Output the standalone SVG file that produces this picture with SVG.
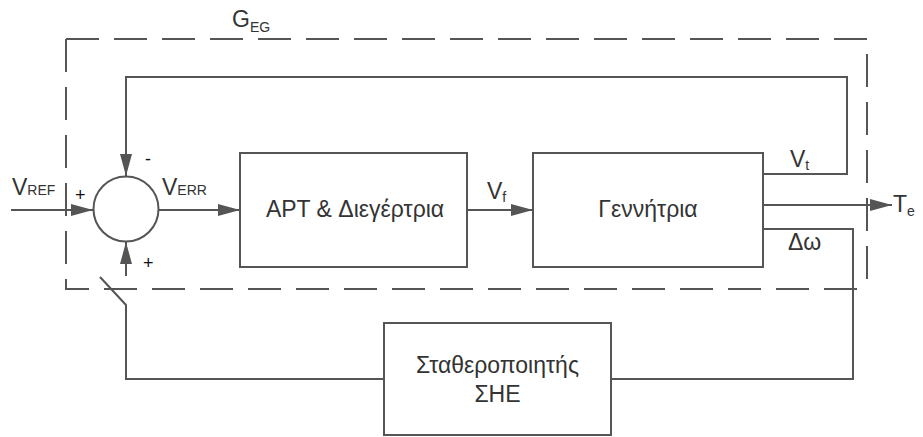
<svg xmlns="http://www.w3.org/2000/svg" width="923" height="437" viewBox="0 0 923 437">
  <defs>
    <marker id="arrow" markerUnits="userSpaceOnUse" markerWidth="22" markerHeight="14" refX="22" refY="7" orient="auto">
      <path d="M0,1 L22,7 L0,13 Z" fill="#555"/>
    </marker>
    <style>
      .blk { fill: #fff; stroke: #555; stroke-width: 2; }
      .wire { fill: none; stroke: #555; stroke-width: 2; }
      .dash { fill: none; stroke: #555; stroke-width: 2; stroke-dasharray: 33 15; }
      text { font-family: "Liberation Sans", Arial, sans-serif; fill: #333; }
      .lbl { font-size: 23px; }
      .sub { font-size: 14px; }
      .sign { font-size: 18px; fill: #111; }
    </style>
  </defs>
  <rect width="923" height="437" fill="#fff"/>

  <!-- boundary of the excitation/generator subsystem -->
  <g id="boundary">
    <path class="dash" d="M66,39 H867 V289"/>
    <path class="dash" d="M66,39 V289 H860"/>
    <text x="232" y="27" class="lbl">G<tspan class="sub" dy="5">EG</tspan></text>
  </g>

  <!-- connectors -->
  <g id="connectors">
    <path class="wire" d="M763,174 H847 V77 H126 V176" marker-end="url(#arrow)"/>
    <path class="wire" d="M11,210 H93" marker-end="url(#arrow)"/>
    <path class="wire" d="M159,210 H240" marker-end="url(#arrow)"/>
    <path class="wire" d="M467,210 H533" marker-end="url(#arrow)"/>
    <path class="wire" d="M763,205 H892" marker-end="url(#arrow)"/>
    <path class="wire" d="M763,229 H853 V379 H611"/>
    <path class="wire" d="M384,379 H126 V305 L100,277"/>
    <path class="wire" d="M126,276 V242" marker-end="url(#arrow)"/>
  </g>

  <!-- summing junction -->
  <g id="sum">
    <circle class="blk" cx="126" cy="209" r="32.5"/>
    <text x="75" y="201" class="sign">+</text>
    <text x="145" y="165" class="sign">-</text>
    <text x="143" y="269" class="sign">+</text>
  </g>

  <g id="avr">
    <rect class="blk" x="240" y="153" width="227" height="114"/>
    <text x="355" y="217" class="lbl" text-anchor="middle">APT &amp; Διεγέρτρια</text>
  </g>

  <g id="generator">
    <rect class="blk" x="533" y="153" width="230" height="114"/>
    <text x="648" y="217" class="lbl" text-anchor="middle">Γεννήτρια</text>
  </g>

  <g id="pss">
    <rect class="blk" x="384" y="323" width="227" height="112"/>
    <text x="497.5" y="373" class="lbl" text-anchor="middle">Σταθεροποιητής</text>
    <text x="497.5" y="402" class="lbl" text-anchor="middle">ΣΗΕ</text>
  </g>

  <!-- signal labels -->
  <g id="labels">
    <text x="12" y="195" class="lbl">V<tspan class="sub">REF</tspan></text>
    <text x="162" y="195" class="lbl">V<tspan class="sub">ERR</tspan></text>
    <text x="487" y="199" class="lbl">V<tspan class="sub" dy="3">f</tspan></text>
    <text x="790" y="167" class="lbl">V<tspan class="sub" dy="3">t</tspan></text>
    <text x="788" y="250" class="lbl">Δω</text>
    <text x="893" y="212" class="lbl">T<tspan class="sub" dy="4">e</tspan></text>
  </g>
</svg>
